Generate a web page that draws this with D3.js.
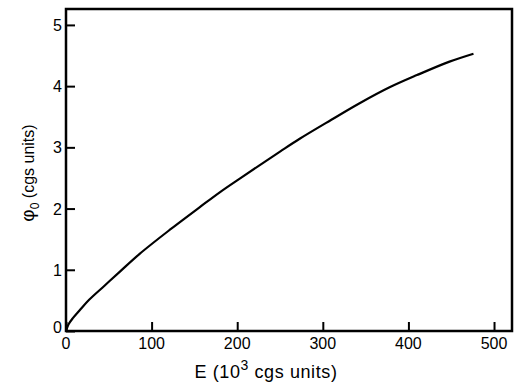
<!DOCTYPE html>
<html>
<head>
<meta charset="utf-8">
<script src="https://cdn.jsdelivr.net/npm/d3@7"></script>
<style>
  body { margin: 0; background: #fff; }
  svg { display: block; }
  text { font-family: "Liberation Sans", Arial, sans-serif; fill: #000; }
</style>
</head>
<body>
<div id="chart"></div>
<script>
// E in 10^3 cgs units, phi0 in cgs units
const fieldE = [0, 3, 8, 16, 27, 45, 63, 86, 121, 156, 180, 203, 250, 273, 310, 343, 378, 410, 448, 476];
const phi0 = [0, 0.11, 0.21, 0.34, 0.51, 0.74, 0.97, 1.26, 1.65, 2.02, 2.27, 2.49, 2.93, 3.14, 3.45, 3.72, 3.98, 4.18, 4.40, 4.53];
const xTicks = [0, 100, 200, 300, 400, 500];
const yTicks = [0, 1, 2, 3, 4, 5];

const width = 514, height = 383;
const margin = {top: 9, right: 2, bottom: 52, left: 66};

const svg = d3.select('#chart').append('svg')
	.attr('width', width)
	.attr('height', height);

const x = d3.scaleLinear()
	.domain([0, 521])
	.range([margin.left, width - margin.right]);

const y = d3.scaleLinear()
	.domain([0, 5.26])
	.range([height - margin.bottom, margin.top]);

// frame
svg.append('rect')
	.attr('x', x(0))
	.attr('y', y(5.26))
	.attr('width', x(521) - x(0))
	.attr('height', y(0) - y(5.26))
	.attr('fill', 'none')
	.attr('stroke', '#000')
	.attr('stroke-width', 2.5);

// x axis: ticks pointing into the plot
const xAxis = svg.append('g')
	.attr('transform', `translate(0,${y(0)})`)
	.call(d3.axisTop(x).tickValues(xTicks).tickSize(9).tickFormat(''));
xAxis.select('.domain').remove();
xAxis.selectAll('line').attr('stroke', '#000').attr('stroke-width', 2);

svg.append('g').selectAll('text')
	.data(xTicks)
	.enter().append('text')
	.attr('x', d => x(d))
	.attr('y', y(0) + 18)
	.attr('text-anchor', 'middle')
	.style('font-size', '16px')
	.text(d => d);

// y axis
const yAxis = svg.append('g')
	.attr('transform', `translate(${x(0)},0)`)
	.call(d3.axisRight(y).tickValues(yTicks).tickSize(9).tickFormat(''));
yAxis.select('.domain').remove();
yAxis.selectAll('line').attr('stroke', '#000').attr('stroke-width', 2);

svg.append('g').selectAll('text')
	.data(yTicks)
	.enter().append('text')
	.attr('x', x(0) - 4)
	.attr('y', d => y(d) + (d === 0 ? 2 : 6))
	.attr('text-anchor', 'end')
	.style('font-size', '16px')
	.text(d => d);

// curve
const line = d3.line()
	.x((d, i) => x(fieldE[i]))
	.y(d => y(d))
	.curve(d3.curveCatmullRom);

svg.append('path')
	.datum(phi0)
	.attr('d', line)
	.attr('fill', 'none')
	.attr('stroke', '#000')
	.attr('stroke-width', 2.2);

// axis titles
const xTitle = svg.append('text')
	.attr('x', 266)
	.attr('y', 378)
	.attr('text-anchor', 'middle')
	.style('font-size', '18px')
	.style('letter-spacing', '0.6px');
xTitle.append('tspan').text('E (10');
xTitle.append('tspan').attr('dy', -8).style('font-size', '14px').text('3');
xTitle.append('tspan').attr('dy', 8).text('  cgs units)');

const yTitle = svg.append('text')
	.attr('transform', `translate(34,173) rotate(-90)`)
	.attr('text-anchor', 'middle')
	.style('font-size', '16px');
yTitle.append('tspan').style('font-size', '19px').text('φ');
yTitle.append('tspan').attr('dy', 5).style('font-size', '12px').text('0');
yTitle.append('tspan').attr('dy', -5).text('  (cgs units)');
</script>
</body>
</html>
